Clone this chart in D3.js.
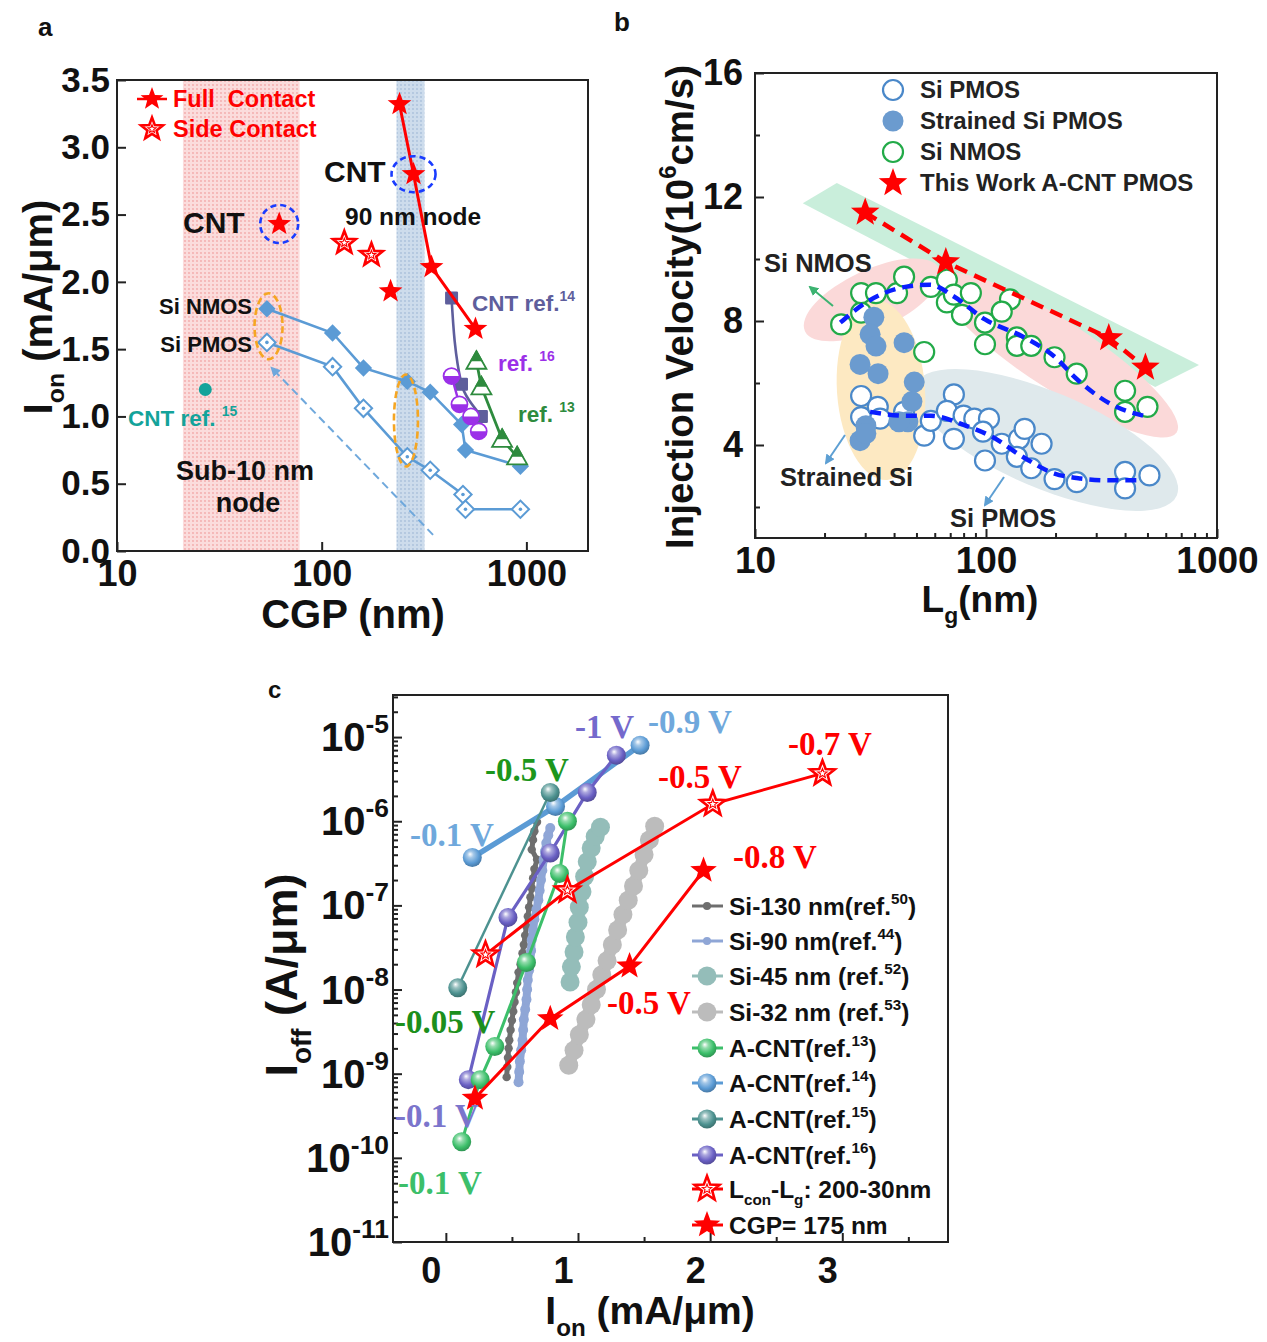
<!DOCTYPE html>
<html>
<head>
<meta charset="utf-8">
<script src="https://cdn.jsdelivr.net/npm/d3@7"></script>
<style>
  body { margin: 0; background: #fff; }
  text { font-family: "Liberation Sans", Arial, sans-serif; font-weight: bold; }
  .serif { font-family: "Liberation Serif", "Times New Roman", serif; }
</style>
</head>
<body>
<script>
// ---------- panel a : Ion vs CGP ----------
const cgpTicksA = [10, 100, 1000];
const ionTicksA = [0, 0.5, 1.0, 1.5, 2.0, 2.5, 3.0, 3.5];
const cgpFullLine = [240, 281, 344, 564];
const ionFullLine = [3.32, 2.80, 2.11, 1.65];
const cgpFullLone = [62, 217];
const ionFullLone = [2.43, 1.93];
const cgpSide = [129, 175];
const ionSide = [2.29, 2.20];
const cgpSiN = [54, 113, 160, 262, 339, 483, 504, 935];
const ionSiN = [1.80, 1.62, 1.36, 1.26, 1.18, 0.94, 0.75, 0.63];
const cgpSiP = [54, 113, 160, 262, 339, 490, 504, 935];
const ionSiP = [1.55, 1.37, 1.06, 0.70, 0.60, 0.42, 0.31, 0.31];
const cgpRef14 = [431, 482, 603];
const ionRef14 = [1.88, 1.24, 1.00];
const cgpRef16 = [431, 471, 536, 585];
const ionRef16 = [1.30, 1.09, 1.00, 0.89];
const cgpRef13 = [570, 603, 761, 901];
const ionRef13 = [1.41, 1.22, 0.83, 0.70];
const cgpRef15 = [27];
const ionRef15 = [1.20];

// ---------- panel b : injection velocity vs Lg ----------
const lgTicksB = [10, 100, 1000];
const velTicksB = [4, 8, 12, 16];
const lgNmos = [23.6, 28.8, 28.8, 33.4, 41.2, 44.2, 57.7, 67.7, 67.7, 72.6, 86, 78.7, 99, 99, 127, 117, 136, 136, 157, 198, 247, 400, 400, 500, 54];
const velNmos = [7.89, 8.27, 8.9, 8.9, 8.9, 9.43, 9.1, 9.33, 8.6, 8.85, 8.9, 8.2, 7.95, 7.25, 8.7, 8.3, 7.47, 7.2, 7.2, 6.83, 6.3, 5.75, 5.07, 5.23, 7.0];
const lgStrained = [32.7, 31.5, 33.4, 28.5, 34.1, 44.2, 48.9, 47.8, 45.9, 42, 30.2, 28.5, 30.2];
const velStrained = [8.12, 7.57, 7.19, 6.6, 6.3, 7.3, 6.03, 5.4, 4.75, 4.75, 4.62, 4.14, 4.37];
const lgPmos = [28.8, 28.8, 34, 34.8, 44.2, 54, 57.7, 72.6, 67.7, 72.6, 80, 89, 103, 97, 99, 117, 139, 147, 174, 136, 157, 198, 247, 400, 400, 510];
const velPmos = [5.58, 4.9, 5.23, 4.85, 5.07, 4.3, 4.78, 5.63, 5.1, 4.2, 4.95, 4.85, 4.85, 4.43, 3.5, 4.04, 4.2, 4.52, 4.04, 3.62, 3.25, 2.9, 2.8, 3.13, 2.6, 3.02];
const lgWork = [30, 67, 340, 490];
const velWork = [11.5, 9.9, 7.45, 6.5];
const lgFitN = [23.4, 30.3, 44.7, 57.3, 72.6, 99, 144, 197, 247, 345, 510];
const velFitN = [7.95, 8.6, 9.1, 9.17, 8.79, 8.05, 7.5, 6.86, 6.13, 5.33, 4.9];
const lgFitP = [31.5, 45.9, 57.7, 82, 106, 144, 198, 257, 345, 470];
const velFitP = [5.07, 4.94, 4.94, 4.62, 4.27, 3.62, 3.08, 2.92, 2.86, 2.86];

// ---------- panel c : Ioff vs Ion ----------
const ionTicksC = [0, 1, 2, 3];
const offTicksC = [-11, -10, -9, -8, -7, -6, -5];
const si130On = [0.46, 0.465, 0.47, 0.475, 0.48, 0.49, 0.50, 0.51, 0.52, 0.53, 0.54, 0.55, 0.565, 0.58, 0.59, 0.60, 0.61, 0.62, 0.63, 0.64, 0.65, 0.66, 0.67, 0.69];
const si130Off = [9.1e-10, 1.2e-9, 1.55e-9, 2.0e-9, 2.5e-9, 3.3e-9, 4.3e-9, 5.5e-9, 7.1e-9, 9.3e-9, 1.2e-8, 1.6e-8, 2.0e-8, 2.7e-8, 3.4e-8, 4.4e-8, 5.6e-8, 7.4e-8, 9.5e-8, 1.25e-7, 1.6e-7, 2.1e-7, 2.7e-7, 3.5e-7];
const si130On2 = [0.65, 0.66, 0.67, 0.69];
const si130Off2 = [4.6e-7, 6.0e-7, 7.6e-7, 9.8e-7];
const si90On = [0.55, 0.555, 0.56, 0.57, 0.58, 0.585, 0.59, 0.60, 0.61, 0.615, 0.62, 0.63, 0.64, 0.645, 0.65, 0.66, 0.67, 0.685, 0.70, 0.71, 0.72, 0.73, 0.74, 0.75, 0.76, 0.775, 0.79];
const si90Off = [7.9e-10, 1.05e-9, 1.4e-9, 1.9e-9, 2.5e-9, 3.3e-9, 4.4e-9, 5.8e-9, 7.6e-9, 1.0e-8, 1.3e-8, 1.7e-8, 2.2e-8, 2.9e-8, 3.9e-8, 5.1e-8, 6.8e-8, 8.9e-8, 1.15e-7, 1.5e-7, 2.0e-7, 2.6e-7, 3.5e-7, 4.4e-7, 5.5e-7, 6.8e-7, 8.3e-7];
const si45On = [0.94, 0.95, 0.97, 0.98, 1.00, 1.01, 1.03, 1.05, 1.07, 1.10, 1.13, 1.17];
const si45Off = [1.23e-8, 1.86e-8, 2.8e-8, 4.2e-8, 6.3e-8, 9.5e-8, 1.45e-7, 2.2e-7, 3.3e-7, 4.8e-7, 6.6e-7, 8.5e-7];
const si32On = [0.93, 0.97, 1.01, 1.06, 1.10, 1.14, 1.18, 1.22, 1.26, 1.30, 1.34, 1.38, 1.42, 1.46, 1.50, 1.54, 1.58];
const si32Off = [1.26e-9, 1.9e-9, 2.9e-9, 4.4e-9, 6.6e-9, 1.0e-8, 1.5e-8, 2.2e-8, 3.4e-8, 5.1e-8, 7.8e-8, 1.15e-7, 1.7e-7, 2.6e-7, 4.0e-7, 6.0e-7, 8.7e-7];
const cnt13On = [0.12, 0.26, 0.37, 0.61, 0.86, 0.92];
const cnt13Off = [1.55e-10, 8.5e-10, 2.1e-9, 2.1e-8, 2.4e-7, 1.0e-6];
const cnt14On = [0.20, 0.83, 1.47];
const cnt14Off = [3.7e-7, 1.5e-6, 8.0e-6];
const cnt15On = [0.09, 0.79];
const cnt15Off = [1.05e-8, 2.2e-6];
const cnt16On = [0.17, 0.47, 0.79, 1.07, 1.29];
const cnt16Off = [8.5e-10, 7.2e-8, 4.2e-7, 2.2e-6, 6.1e-6];
const sideOn = [0.30, 0.92, 2.02, 2.85];
const sideOff = [2.6e-8, 1.5e-7, 1.6e-6, 3.7e-6];
const fullOn = [0.22, 0.79, 1.39, 1.95];
const fullOff = [5.1e-10, 4.5e-9, 1.9e-8, 2.6e-7];

const zip = (a, b) => a.map((v, i) => [v, b[i]]);

const svg = d3.select("body").append("svg").attr("width", 1267).attr("height", 1342);
const defs = svg.append("defs");

function dotPattern(id, bg, dot) {
  const p = defs.append("pattern").attr("id", id).attr("width", 4).attr("height", 4)
    .attr("patternUnits", "userSpaceOnUse");
  p.append("rect").attr("width", 4).attr("height", 4).attr("fill", bg);
  p.append("circle").attr("cx", 1).attr("cy", 1).attr("r", 0.9).attr("fill", dot);
}
dotPattern("pinkDots", "#fbdcdc", "#f3a9a9");
dotPattern("blueDots", "#cddcec", "#a9c0db");

function arrowHead(id, color) {
  defs.append("marker").attr("id", id).attr("viewBox", "0 0 10 10")
    .attr("refX", 8).attr("refY", 5).attr("markerWidth", 5).attr("markerHeight", 5)
    .attr("orient", "auto").append("path").attr("d", "M0,0L10,5L0,10Z").attr("fill", color);
}
arrowHead("arrBlue", "#6fa8dc");
arrowHead("arrGreen", "#3cb371");
arrowHead("arrBlue2", "#5d9fd3");

function sphere(id, color) {
  const g = defs.append("radialGradient").attr("id", id)
    .attr("cx", "45%").attr("cy", "40%").attr("r", "60%").attr("fx", "38%").attr("fy", "32%");
  g.append("stop").attr("offset", "0%").attr("stop-color", "#ffffff");
  g.append("stop").attr("offset", "28%").attr("stop-color", d3.interpolateRgb("#ffffff", color)(0.55));
  g.append("stop").attr("offset", "70%").attr("stop-color", color);
  g.append("stop").attr("offset", "100%").attr("stop-color", d3.color(color).darker(0.7));
}
sphere("sp13", "#3cbf6a");
sphere("sp14", "#5b9bd5");
sphere("sp15", "#4d9290");
sphere("sp16", "#6a60c4");

function starPath(R) {
  const pts = [];
  for (let i = 0; i < 10; i++) {
    const a = -Math.PI / 2 + i * Math.PI / 5;
    const rr = i % 2 ? R * 0.42 : R;
    pts.push([rr * Math.cos(a), rr * Math.sin(a)]);
  }
  return "M" + pts.join("L") + "Z";
}
function fullStar(g, x, y, R) {
  g.append("path").attr("d", starPath(R)).attr("transform", `translate(${x},${y})`)
    .attr("fill", "#ff0000");
}
function openStar(g, x, y, R) {
  g.append("path").attr("d", starPath(R)).attr("transform", `translate(${x},${y})`)
    .attr("fill", "#fff").attr("stroke", "#ff0000").attr("stroke-width", 2.6).attr("stroke-linejoin", "miter");
  g.append("path").attr("d", starPath(R * 0.38)).attr("transform", `translate(${x},${y})`)
    .attr("fill", "none").attr("stroke", "#ff0000").attr("stroke-width", 1.1);
}

function styleAxis(ax, size) {
  ax.select(".domain").remove();
  ax.selectAll(".tick line").attr("stroke", "#222").attr("stroke-width", 2);
  ax.selectAll(".tick text").attr("fill", "#111").style("font-size", size + "px");
}
function frame(g, x0, y0, x1, y1) {
  g.append("rect").attr("x", x0).attr("y", y0).attr("width", x1 - x0).attr("height", y1 - y0)
    .attr("fill", "none").attr("stroke", "#222").attr("stroke-width", 2);
}
function supText(g, x, y, parts, size, color, anchor, ratio) {
  // parts: [text, "sup"|"sub"|null]
  const t = g.append("text").attr("x", x).attr("y", y).attr("fill", color)
    .attr("text-anchor", anchor || "start").style("font-size", size + "px");
  let shift = 0;
  parts.forEach(([s, k]) => {
    const target = k === "sup" ? -0.45 : k === "sub" ? 0.3 : 0;
    const ts = t.append("tspan").text(s).attr("dy", ((target - shift) * size) + "px");
    if (k) ts.style("font-size", (size * (ratio || 0.62)) + "px");
    shift = target;
  });
  return t;
}

// ====================== PANEL A ======================
{
  const g = svg.append("g");
  const x = d3.scaleLog().domain([10, 2000]).range([117, 588]);
  const y = d3.scaleLinear().domain([0, 3.5]).range([551, 80]);
  const [top, bot] = [y(3.5), y(0)];

  g.append("rect").attr("x", x(21)).attr("y", top).attr("width", x(78) - x(21)).attr("height", bot - top)
    .attr("fill", "url(#pinkDots)");
  g.append("rect").attr("x", x(232)).attr("y", top).attr("width", x(318) - x(232)).attr("height", bot - top)
    .attr("fill", "url(#blueDots)");

  const ay = g.append("g").attr("transform", `translate(${x(10)},0)`)
    .call(d3.axisLeft(y).tickValues(ionTicksA).tickSize(-9).tickPadding(7).tickFormat(d3.format(".1f")));
  styleAxis(ay, 35);
  const ax = g.append("g").attr("transform", `translate(0,${bot})`)
    .call(d3.axisBottom(x).tickValues(cgpTicksA).tickSize(-9).tickPadding(9).tickFormat(d3.format("d")));
  styleAxis(ax, 36);
  frame(g, x(10), top, x(2000), bot);

  const line = d3.line().x(d => x(d[0])).y(d => y(d[1]));

  // dashed guide arrow
  g.append("line").attr("x1", x(350)).attr("y1", y(0.12)).attr("x2", x(57)).attr("y2", y(1.36))
    .attr("stroke", "#6fa8dc").attr("stroke-width", 2).attr("stroke-dasharray", "8,5")
    .attr("marker-end", "url(#arrBlue)");

  // Si NMOS / PMOS
  const siBlue = "#5b9bd5";
  g.append("path").datum(zip(cgpSiN, ionSiN)).attr("d", line).attr("fill", "none")
    .attr("stroke", siBlue).attr("stroke-width", 2.6);
  g.append("path").datum(zip(cgpSiP, ionSiP)).attr("d", line).attr("fill", "none")
    .attr("stroke", siBlue).attr("stroke-width", 2.6);
  const diamond = d3.symbol().type(d3.symbolSquare).size(150);
  zip(cgpSiN, ionSiN).forEach(d => {
    g.append("path").attr("d", diamond).attr("transform", `translate(${x(d[0])},${y(d[1])}) rotate(45)`)
      .attr("fill", siBlue);
  });
  zip(cgpSiP, ionSiP).forEach(d => {
    g.append("path").attr("d", diamond).attr("transform", `translate(${x(d[0])},${y(d[1])}) rotate(45)`)
      .attr("fill", "#fff").attr("stroke", siBlue).attr("stroke-width", 2);
    g.append("circle").attr("cx", x(d[0])).attr("cy", y(d[1])).attr("r", 1.8).attr("fill", siBlue);
  });

  // CNT ref 14
  g.append("path").datum(zip(cgpRef14, ionRef14)).attr("d", line.curve(d3.curveMonotoneY))
    .attr("fill", "none").attr("stroke", "#5e5e9c").attr("stroke-width", 2.6);
  line.curve(d3.curveLinear);
  zip(cgpRef14, ionRef14).forEach(d => {
    g.append("path").attr("d", d3.symbol().type(d3.symbolSquare).size(110))
      .attr("transform", `translate(${x(d[0])},${y(d[1])})`).attr("fill", "#5e5e9c")
      .attr("stroke", "#5e5e9c").attr("stroke-width", 2.5).attr("stroke-linejoin", "round");
  });

  // ref 16 half filled circles
  const purple = "#9b30e8";
  g.append("path").datum(zip(cgpRef16, ionRef16)).attr("d", line).attr("fill", "none")
    .attr("stroke", purple).attr("stroke-width", 2.4);
  zip(cgpRef16, ionRef16).forEach(d => {
    const cx = x(d[0]), cy = y(d[1]), r = 8;
    g.append("circle").attr("cx", cx).attr("cy", cy).attr("r", r).attr("fill", "#fff")
      .attr("stroke", purple).attr("stroke-width", 1.8);
    g.append("path").attr("d", `M${cx - r},${cy} A${r},${r} 0 0 0 ${cx + r},${cy} Z`).attr("fill", purple);
  });

  // ref 13 half filled triangles
  const dgreen = "#2e8b3e";
  g.append("path").datum(zip(cgpRef13, ionRef13)).attr("d", line).attr("fill", "none")
    .attr("stroke", dgreen).attr("stroke-width", 2.8);
  zip(cgpRef13, ionRef13).forEach(d => {
    const cx = x(d[0]), cy = y(d[1]), s = 10;
    g.append("path").attr("d", `M${cx},${cy - s}L${cx + s},${cy + s * 0.75}L${cx - s},${cy + s * 0.75}Z`)
      .attr("fill", "#fff").attr("stroke", dgreen).attr("stroke-width", 1.8);
    g.append("path").attr("d", `M${cx},${cy - s}L${cx + s * 0.5},${cy - s * 0.1}L${cx - s * 0.5},${cy - s * 0.1}Z`)
      .attr("fill", dgreen).attr("stroke", dgreen).attr("stroke-width", 1.8);
  });

  // CNT ref 15
  zip(cgpRef15, ionRef15).forEach(d => {
    g.append("circle").attr("cx", x(d[0])).attr("cy", y(d[1])).attr("r", 6.5).attr("fill", "#13a39a");
  });

  // this work
  g.append("path").datum(zip(cgpFullLine, ionFullLine)).attr("d", line).attr("fill", "none")
    .attr("stroke", "#ff0000").attr("stroke-width", 3);
  zip(cgpFullLine, ionFullLine).concat(zip(cgpFullLone, ionFullLone))
    .forEach(d => fullStar(g, x(d[0]), y(d[1]), 12.5));
  zip(cgpSide, ionSide).forEach(d => openStar(g, x(d[0]), y(d[1]), 12));

  // dashed highlight circles
  g.append("ellipse").attr("cx", x(62)).attr("cy", y(2.43)).attr("rx", 19).attr("ry", 19)
    .attr("fill", "none").attr("stroke", "#1a3cff").attr("stroke-width", 2.6).attr("stroke-dasharray", "6,4");
  g.append("ellipse").attr("cx", x(281)).attr("cy", y(2.80)).attr("rx", 22).attr("ry", 18)
    .attr("fill", "none").attr("stroke", "#1a3cff").attr("stroke-width", 2.6).attr("stroke-dasharray", "6,4");
  g.append("ellipse").attr("cx", x(55)).attr("cy", y(1.67)).attr("rx", 14).attr("ry", 33)
    .attr("fill", "none").attr("stroke", "#f5a623").attr("stroke-width", 2.6).attr("stroke-dasharray", "7,4");
  g.append("ellipse").attr("cx", x(258)).attr("cy", y(0.97)).attr("rx", 12).attr("ry", 46)
    .attr("fill", "none").attr("stroke", "#f5a623").attr("stroke-width", 2.6).attr("stroke-dasharray", "7,4");

  // legend
  g.append("line").attr("x1", 137).attr("x2", 167).attr("y1", 99).attr("y2", 99)
    .attr("stroke", "#ff0000").attr("stroke-width", 2.5);
  fullStar(g, 152, 99, 12);
  openStar(g, 152, 129, 11.5);
  g.append("text").attr("x", 173).attr("y", 107).attr("fill", "#ff0000").style("font-size", "23.5px")
    .attr("xml:space", "preserve").text("Full  Contact");
  g.append("text").attr("x", 173).attr("y", 137).attr("fill", "#ff0000").style("font-size", "23.5px").text("Side Contact");

  // annotations
  g.append("text").attr("x", 183).attr("y", 233).style("font-size", "30px").attr("fill", "#111").text("CNT");
  g.append("text").attr("x", 324).attr("y", 182).style("font-size", "30px").attr("fill", "#111").text("CNT");
  g.append("text").attr("x", 345).attr("y", 225).style("font-size", "24.5px").attr("fill", "#111").text("90 nm node");
  g.append("text").attr("x", 252).attr("y", 314).attr("text-anchor", "end").style("font-size", "22px").attr("fill", "#111").text("Si NMOS");
  g.append("text").attr("x", 252).attr("y", 352).attr("text-anchor", "end").style("font-size", "22px").attr("fill", "#111").text("Si PMOS");
  g.append("text").attr("x", 245).attr("y", 480).attr("text-anchor", "middle").style("font-size", "27px").attr("fill", "#111").text("Sub-10 nm");
  g.append("text").attr("x", 248).attr("y", 512).attr("text-anchor", "middle").style("font-size", "27px").attr("fill", "#111").text("node");
  supText(g, 472, 311, [["CNT ref.", null], ["14", "sup"]], 22.5, "#5e5e9c");
  supText(g, 498, 371, [["ref. ", null], ["16", "sup"]], 22.5, purple);
  supText(g, 518, 422, [["ref. ", null], ["13", "sup"]], 22.5, dgreen);
  supText(g, 128, 426, [["CNT ref. ", null], ["15", "sup"]], 22.5, "#13a39a");

  // axis titles
  supText(g, 353, 628, [["CGP (nm)", null]], 40, "#111", "middle");
  supText(g.append("g").attr("transform", "translate(52,307) rotate(-90)"), 0, 0,
    [["I", null], ["on", "sub"], [" (mA/\u03bcm)", null]], 40, "#111", "middle");
  g.append("text").attr("x", 38).attr("y", 36).style("font-size", "26px").attr("fill", "#111").text("a");
}

// ====================== PANEL B ======================
{
  const g = svg.append("g");
  const x = d3.scaleLog().domain([10, 1000]).range([755, 1217]);
  const y = d3.scaleLinear().domain([1, 16]).range([538, 73]);

  // green band
  const band = [[16.1, 11.8], [22.6, 12.45], [836, 6.58], [540, 5.87]];
  g.append("path").attr("d", "M" + band.map(d => [x(d[0]), y(d[1])]).join("L") + "Z").attr("fill", "#c9eedb");
  // background ellipses
  const ell = (lg, v, rx, ry, rot, col) => g.append("ellipse")
    .attr("transform", `translate(${x(lg)},${y(v)}) rotate(${rot})`)
    .attr("rx", rx).attr("ry", ry).attr("fill", col);
  ell(32.1, 8.68, 74, 30, -25, "#fbd9d9");
  ell(204, 6.9, 142, 34, 33, "#fbd9d9");
  ell(182, 4.16, 142, 48, 23, "#dfe9ec");
  ell(35.1, 5.77, 44, 90, -4, "#fde9c2");

  const ay = g.append("g").attr("transform", `translate(${x(10)},0)`)
    .call(d3.axisLeft(y).tickValues(velTicksB).tickSize(-9).tickPadding(12).tickFormat(d3.format("d")));
  styleAxis(ay, 36);
  g.append("g").attr("transform", `translate(${x(10)},0)`)
    .call(d3.axisLeft(y).tickValues([2, 6, 10, 14]).tickSize(-5).tickFormat(""))
    .call(a => styleAxis(a, 10));
  const ax = g.append("g").attr("transform", `translate(0,${y(1)})`)
    .call(d3.axisBottom(x).tickValues(lgTicksB).tickSize(-9).tickPadding(9).tickFormat(d3.format("d")));
  styleAxis(ax, 37);
  const minors = [20, 30, 40, 50, 60, 70, 80, 90, 200, 300, 400, 500, 600, 700, 800, 900];
  g.append("g").attr("transform", `translate(0,${y(1)})`)
    .call(d3.axisBottom(x).tickValues(minors).tickSize(-5).tickFormat(""))
    .call(a => styleAxis(a, 10));
  frame(g, x(10), y(16), x(1000), y(1));

  zip(lgNmos, velNmos).forEach(d => g.append("circle").attr("cx", x(d[0])).attr("cy", y(d[1])).attr("r", 10)
    .attr("fill", "#fff").attr("stroke", "#22aa48").attr("stroke-width", 2.2));
  zip(lgPmos, velPmos).forEach(d => g.append("circle").attr("cx", x(d[0])).attr("cy", y(d[1])).attr("r", 10)
    .attr("fill", "#fff").attr("stroke", "#4a88c9").attr("stroke-width", 2.2));
  zip(lgStrained, velStrained).forEach(d => g.append("circle").attr("cx", x(d[0])).attr("cy", y(d[1])).attr("r", 10.5)
    .attr("fill", "#6b9bcf"));

  const line = d3.line().x(d => x(d[0])).y(d => y(d[1])).curve(d3.curveMonotoneX);
  g.append("path").datum(zip(lgFitN, velFitN)).attr("d", line).attr("fill", "none")
    .attr("stroke", "#0a1eff").attr("stroke-width", 4.5).attr("stroke-dasharray", "11,7");
  g.append("path").datum(zip(lgFitP, velFitP)).attr("d", line).attr("fill", "none")
    .attr("stroke", "#0a1eff").attr("stroke-width", 4.5).attr("stroke-dasharray", "11,7");
  g.append("path").datum(zip(lgWork, velWork)).attr("d", line.curve(d3.curveLinear)).attr("fill", "none")
    .attr("stroke", "#ff0000").attr("stroke-width", 4.5).attr("stroke-dasharray", "13,8");
  zip(lgWork, velWork).forEach(d => fullStar(g, x(d[0]), y(d[1]), 15));

  // legend
  const ly = [90, 121, 152, 183];
  g.append("circle").attr("cx", 893).attr("cy", ly[0]).attr("r", 10).attr("fill", "#fff").attr("stroke", "#4a88c9").attr("stroke-width", 2.2);
  g.append("circle").attr("cx", 893).attr("cy", ly[1]).attr("r", 10.5).attr("fill", "#6b9bcf");
  g.append("circle").attr("cx", 893).attr("cy", ly[2]).attr("r", 10).attr("fill", "#fff").attr("stroke", "#22aa48").attr("stroke-width", 2.2);
  fullStar(g, 893, ly[3], 15);
  ["Si PMOS", "Strained Si PMOS", "Si NMOS", "This Work A-CNT PMOS"].forEach((s, i) =>
    g.append("text").attr("x", 920).attr("y", ly[i] + 8).style("font-size", "24px").attr("fill", "#222").text(s));

  // annotations
  g.append("text").attr("x", 764).attr("y", 272).style("font-size", "25.5px").attr("fill", "#222").text("Si NMOS");
  g.append("line").attr("x1", 833).attr("y1", 306).attr("x2", 810).attr("y2", 287)
    .attr("stroke", "#3cb371").attr("stroke-width", 2).attr("marker-end", "url(#arrGreen)");
  g.append("text").attr("x", 780).attr("y", 486).style("font-size", "25.5px").attr("fill", "#222").text("Strained Si");
  g.append("line").attr("x1", 845).attr("y1", 435).attr("x2", 826).attr("y2", 463)
    .attr("stroke", "#5d9fd3").attr("stroke-width", 2).attr("marker-end", "url(#arrBlue2)");
  g.append("text").attr("x", 950).attr("y", 527).style("font-size", "25.5px").attr("fill", "#222").text("Si PMOS");
  g.append("line").attr("x1", 1004).attr("y1", 477).attr("x2", 985).attr("y2", 505)
    .attr("stroke", "#5d9fd3").attr("stroke-width", 2).attr("marker-end", "url(#arrBlue2)");

  // titles
  supText(g, 980, 612, [["L", null], ["g", "sub"], ["(nm)", null]], 37, "#111", "middle");
  supText(g.append("g").attr("transform", "translate(693,307) rotate(-90)"), 0, 0,
    [["Injection Velocity(10", null], ["6", "sup"], ["cm/s)", null]], 38.5, "#111", "middle");
  g.append("text").attr("x", 614).attr("y", 31).style("font-size", "26px").attr("fill", "#111").text("b");
}

// ====================== PANEL C ======================
{
  const g = svg.append("g");
  const x = d3.scaleLinear().domain([-0.4, 3.8]).range([393, 948]);
  const y = d3.scaleLog().domain([1e-11, Math.pow(10, -4.5)]).range([1242, 695]);

  // y axis, decade labels with superscripts
  const ay = g.append("g").attr("transform", `translate(${x(-0.4)},0)`)
    .call(d3.axisLeft(y).tickValues(offTicksC.map(e => Math.pow(10, e))).tickSize(-9).tickPadding(6).tickFormat(""));
  styleAxis(ay, 10);
  offTicksC.forEach(e => supText(g, x(-0.4) - 4, y(Math.pow(10, e)) + 14,
    [["10", null], [String(e), "sup"]], 40, "#111", "end", 0.66));
  const minorY = [];
  offTicksC.forEach(e => { for (let k = 2; k <= 9; k++) if (e + Math.log10(k) < -4.5) minorY.push(k * Math.pow(10, e)); });
  g.append("g").attr("transform", `translate(${x(-0.4)},0)`)
    .call(d3.axisLeft(y).tickValues(minorY).tickSize(-5).tickFormat(""))
    .call(a => styleAxis(a, 10));
  const ax = g.append("g").attr("transform", `translate(0,${y(1e-11)})`)
    .call(d3.axisBottom(x).tickValues(ionTicksC).tickSize(-9).tickPadding(15).tickFormat(d3.format("d")));
  styleAxis(ax, 36);
  ax.selectAll(".tick text").attr("dx", -15);
  g.append("g").attr("transform", `translate(0,${y(1e-11)})`)
    .call(d3.axisBottom(x).tickValues([0.5, 1.5, 2.5, 3.5]).tickSize(-5).tickFormat(""))
    .call(a => styleAxis(a, 10));
  frame(g, x(-0.4), y(Math.pow(10, -4.5)), x(3.8), y(1e-11));

  const line = d3.line().x(d => x(d[0])).y(d => y(d[1]));
  const dots = (on, off, col, r, lw) => {
    g.append("path").datum(zip(on, off)).attr("d", line).attr("fill", "none")
      .attr("stroke", col).attr("stroke-width", lw).attr("stroke-linecap", "round");
    zip(on, off).forEach(d => g.append("circle").attr("cx", x(d[0])).attr("cy", y(d[1])).attr("r", r).attr("fill", col));
  };
  dots(si130On.concat(si130On2), si130Off.concat(si130Off2), "#6e6e6e", 4.2, 5);
  dots(si90On, si90Off, "#8fa6d6", 5, 8);
  dots(si45On, si45Off, "#94bdb9", 9.5, 12);
  dots(si32On, si32Off, "#bcbcbc", 9.5, 12);

  const balls = (on, off, col, grad, lw) => {
    g.append("path").datum(zip(on, off)).attr("d", line).attr("fill", "none")
      .attr("stroke", col).attr("stroke-width", lw);
    zip(on, off).forEach(d => g.append("circle").attr("cx", x(d[0])).attr("cy", y(d[1])).attr("r", 9.5)
      .attr("fill", `url(#${grad})`));
  };
  balls(cnt14On, cnt14Off, "#5b9bd5", "sp14", 5.5);
  balls(cnt15On, cnt15Off, "#4d9290", "sp15", 2.5);
  balls(cnt16On, cnt16Off, "#6a60c4", "sp16", 3.2);
  balls(cnt13On, cnt13Off, "#3cbf6a", "sp13", 3);

  g.append("path").datum(zip(sideOn, sideOff)).attr("d", line).attr("fill", "none")
    .attr("stroke", "#ff0000").attr("stroke-width", 3);
  zip(sideOn, sideOff).forEach(d => openStar(g, x(d[0]), y(d[1]), 13));
  g.append("path").datum(zip(fullOn, fullOff)).attr("d", line).attr("fill", "none")
    .attr("stroke", "#ff0000").attr("stroke-width", 3);
  zip(fullOn, fullOff).forEach(d => fullStar(g, x(d[0]), y(d[1]), 14));

  // voltage labels
  const vlab = (px, py, s, col) => g.append("text").attr("class", "serif").attr("x", px).attr("y", py)
    .attr("fill", col).style("font-size", "33px").text(s);
  vlab(485, 781, "-0.5 V", "#1c961c");
  vlab(410, 846, "-0.1 V", "#6fa8dc");
  vlab(575, 738, "-1 V", "#7469cc");
  vlab(648, 733, "-0.9 V", "#6fa8dc");
  vlab(788, 755, "-0.7 V", "#ff0000");
  vlab(658, 788, "-0.5 V", "#ff0000");
  vlab(733, 868, "-0.8 V", "#ff0000");
  vlab(607, 1014, "-0.5 V", "#ff0000");
  vlab(395, 1033, "-0.05 V", "#1c8f1c");
  vlab(395, 1127, "-0.1 V", "#7b75cc");
  vlab(398, 1194, "-0.1 V", "#3cbf6a");

  // legend
  const rows = [906, 941, 976, 1012, 1048, 1083, 1119, 1155, 1189, 1225];
  const legend = [
    { parts: [["Si-130 nm(ref.", null], ["50", "sup"], [")", null]], col: "#6e6e6e", kind: "dot", r: 4 },
    { parts: [["Si-90 nm(ref.", null], ["44", "sup"], [")", null]], col: "#8fa6d6", kind: "dot", r: 4 },
    { parts: [["Si-45 nm (ref.", null], ["52", "sup"], [")", null]], col: "#94bdb9", kind: "dot", r: 9.5 },
    { parts: [["Si-32 nm (ref.", null], ["53", "sup"], [")", null]], col: "#bcbcbc", kind: "dot", r: 9.5 },
    { parts: [["A-CNT(ref.", null], ["13", "sup"], [")", null]], col: "#3cbf6a", kind: "ball", grad: "sp13" },
    { parts: [["A-CNT(ref.", null], ["14", "sup"], [")", null]], col: "#5b9bd5", kind: "ball", grad: "sp14" },
    { parts: [["A-CNT(ref.", null], ["15", "sup"], [")", null]], col: "#4d9290", kind: "ball", grad: "sp15" },
    { parts: [["A-CNT(ref.", null], ["16", "sup"], [")", null]], col: "#6a60c4", kind: "ball", grad: "sp16" },
    { parts: [["L", null], ["con", "sub"], ["-L", null], ["g", "sub"], [": 200-30nm", null]], col: "#ff0000", kind: "open" },
    { parts: [["CGP= 175 nm", null]], col: "#ff0000", kind: "full" }
  ];
  legend.forEach((e, i) => {
    const cy = rows[i];
    g.append("line").attr("x1", 692).attr("x2", 723).attr("y1", cy).attr("y2", cy)
      .attr("stroke", e.col).attr("stroke-width", 3);
    if (e.kind === "dot") g.append("circle").attr("cx", 707).attr("cy", cy).attr("r", e.r).attr("fill", e.col);
    if (e.kind === "ball") g.append("circle").attr("cx", 707).attr("cy", cy).attr("r", 9.5).attr("fill", `url(#${e.grad})`);
    if (e.kind === "open") openStar(g, 707, cy, 13);
    if (e.kind === "full") fullStar(g, 707, cy, 14);
    supText(g, 729, cy + 9, e.parts, 24.5, "#111");
  });

  // titles
  supText(g, 650, 1324, [["I", null], ["on", "sub"], [" (mA/\u03bcm)", null]], 39, "#111", "middle");
  supText(g.append("g").attr("transform", "translate(297,975) rotate(-90)"), 0, 0,
    [["I", null], ["off", "sub"], [" (A/\u03bcm)", null]], 45, "#111", "middle");
  g.append("text").attr("x", 268).attr("y", 698).style("font-size", "24px").attr("fill", "#111").text("c");
}
</script>
</body>
</html>
